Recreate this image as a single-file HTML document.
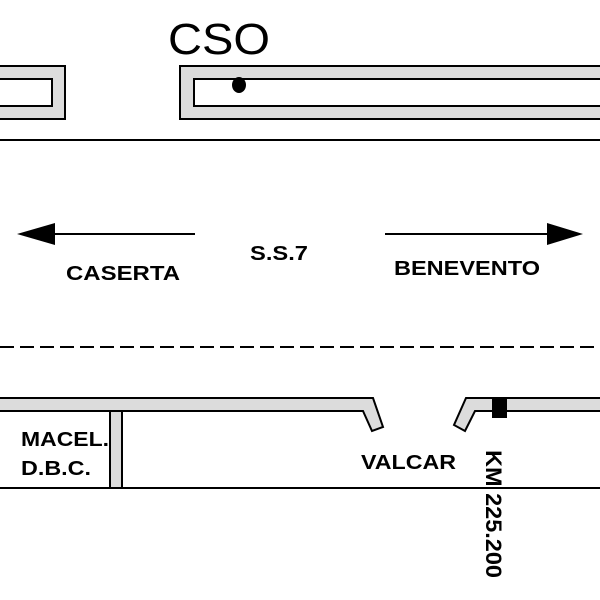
<!DOCTYPE html>
<html><head><style>body{margin:0;background:#fff}svg{display:block}text{font-family:"Liberation Sans",Arial,sans-serif}</style></head>
<body>
<svg width="600" height="600" viewBox="0 0 600 600" xmlns="http://www.w3.org/2000/svg">
<rect width="600" height="600" fill="#fff"/>
<text x="168" y="54" font-size="44" textLength="102" lengthAdjust="spacingAndGlyphs" fill="#000">CSO</text>
<!-- top buildings -->
<rect x="-10" y="66" width="75" height="53" fill="#dcdcdc" stroke="#000" stroke-width="2"/>
<rect x="-10" y="79" width="62" height="27" fill="#fff" stroke="#000" stroke-width="2"/>
<rect x="180" y="66" width="430" height="53" fill="#dcdcdc" stroke="#000" stroke-width="2"/>
<rect x="194" y="79" width="420" height="27" fill="#fff" stroke="#000" stroke-width="2"/>
<ellipse cx="239" cy="85" rx="7" ry="8" fill="#000"/>
<line x1="0" y1="140" x2="600" y2="140" stroke="#000" stroke-width="2"/>
<!-- arrows -->
<line x1="50" y1="234" x2="195" y2="234" stroke="#000" stroke-width="2"/>
<polygon points="17,234 55,223 55,245" fill="#000"/>
<line x1="385" y1="234" x2="550" y2="234" stroke="#000" stroke-width="2"/>
<polygon points="583,234 547,223 547,245" fill="#000"/>
<text x="66" y="280" font-size="20" font-weight="bold" textLength="114" lengthAdjust="spacingAndGlyphs">CASERTA</text>
<text x="250" y="260" font-size="20" font-weight="bold" textLength="58" lengthAdjust="spacingAndGlyphs">S.S.7</text>
<text x="394" y="275" font-size="20" font-weight="bold" textLength="146" lengthAdjust="spacingAndGlyphs">BENEVENTO</text>
<line x1="0" y1="347" x2="600" y2="347" stroke="#000" stroke-width="2" stroke-dasharray="14,6"/>
<!-- bottom buildings -->
<polygon points="-10,398 373,398 383,427 372,431 363,411 -10,411" fill="#dcdcdc" stroke="#000" stroke-width="2"/>
<polygon points="610,398 466,398 454,425 465,431 475,411 610,411" fill="#dcdcdc" stroke="#000" stroke-width="2"/>
<rect x="492" y="398" width="15" height="20" fill="#000"/>
<rect x="110" y="411" width="12" height="77" fill="#dcdcdc" stroke="#000" stroke-width="2"/>
<line x1="0" y1="488" x2="600" y2="488" stroke="#000" stroke-width="2"/>
<text x="21" y="446" font-size="20" font-weight="bold" textLength="88" lengthAdjust="spacingAndGlyphs">MACEL.</text>
<text x="21" y="475" font-size="20" font-weight="bold" textLength="70" lengthAdjust="spacingAndGlyphs">D.B.C.</text>
<text x="361" y="469" font-size="20" font-weight="bold" textLength="95" lengthAdjust="spacingAndGlyphs">VALCAR</text>
<text transform="translate(486,450) rotate(90)" font-size="22" font-weight="bold" textLength="128" lengthAdjust="spacingAndGlyphs">KM 225.200</text>
</svg>
</body></html>
